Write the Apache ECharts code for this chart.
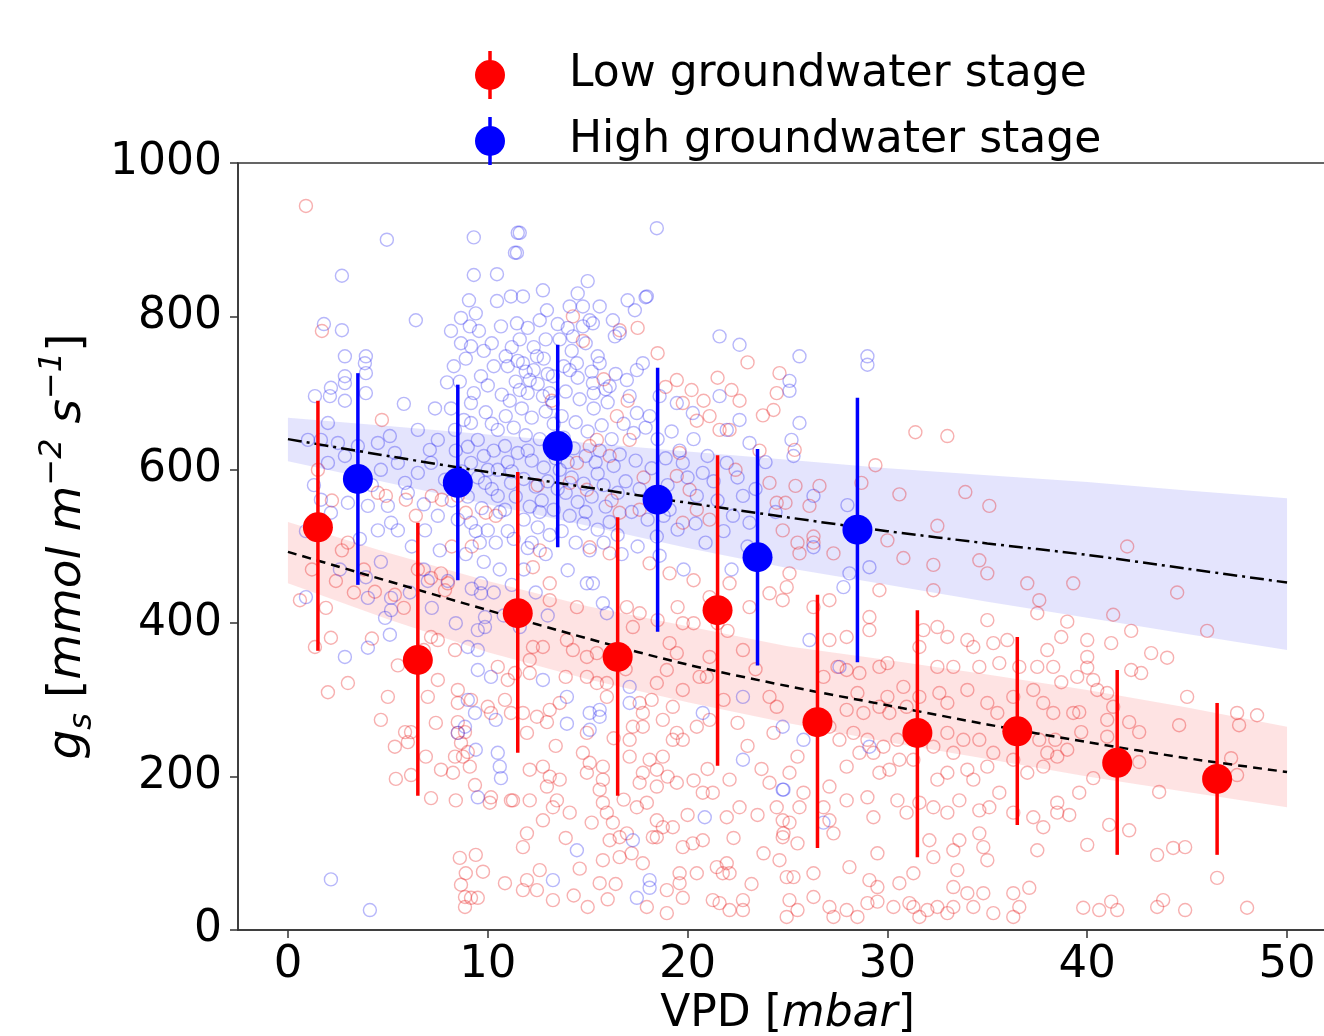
<!DOCTYPE html>
<html>
<head>
<meta charset="utf-8">
<script src="https://cdn.jsdelivr.net/npm/echarts/dist/echarts.min.js"></script>
<style>
html,body{margin:0;padding:0;background:#fff;}
#chart{width:1324px;height:1036px;}
</style>
</head>
<body>
<div id="chart"></div>
<script>
// ---------- data ----------
const vpdTicks = [0, 10, 20, 30, 40, 50];

// low groundwater stage: bin means and error bars
const lowX = [1.5, 6.5, 11.5, 16.5, 21.5, 26.5, 31.5, 36.5, 41.5, 46.5];
const lowMean = [525, 352, 413, 356, 417, 271, 257, 259, 218, 197];
const lowErrLo = [364, 175, 231, 175, 214, 107, 95, 137, 98, 98];
const lowErrHi = [690, 531, 597, 538, 619, 437, 417, 382, 339, 296];

// high groundwater stage: bin means and error bars
const highX = [3.5, 8.5, 13.5, 18.5, 23.5, 28.5];
const highMean = [588, 583, 631, 561, 486, 522];
const highErrLo = [450, 456, 499, 389, 345, 349];
const highErrHi = [726, 711, 763, 733, 627, 694];

// fitted curves and confidence bands
const fitX = [0, 5, 10, 15, 20, 25, 30, 35, 40, 45, 50];
const lowFit = [493, 455, 417, 380, 346, 318, 293, 268, 245, 224, 206];
const lowBandUpper = [532, 492, 455, 422, 396, 370, 352, 333, 313, 290, 265];
const lowBandLower = [452, 405, 362, 327, 297, 270, 245, 223, 200, 180, 160];
const highFit = [640, 618, 597, 577, 557, 538, 520, 504, 489, 471, 453];
const highBandUpper = [668, 657, 646, 635, 624, 613, 602, 593, 584, 573, 563];
const highBandLower = [611, 583, 555, 527, 498, 472, 450, 428, 407, 386, 365];

// individual observations (hollow circles)
const lowObs = [
[0.9,944],[1.7,781],[4.7,665],[4.5,570],[4.9,566],[5.9,561],[7.2,566],[7.7,561],[8.5,566],[8.9,544],[9.9,544],[10.4,540],[6.4,540],[3.0,505],[2.7,495],[8.2,500],[9.2,500],
[1.35,369],[2.15,381],[3.0,322],[2.0,310],[4.35,441],[5.35,437],[7.16,459],[7.66,465],[8.0,452],[7.86,443],[7.16,382],[7.5,378],[8.36,365],[10.5,343],[11.0,326],[11.36,335],[7.5,326],[7.0,304],[8.5,313],[8.5,296],[9.16,300],[10.0,291],[10.16,283],[10.86,300],[11.16,283],[5.0,304],[4.65,274],[5.86,258],[6.16,258],[6.0,245],[5.35,239],[7.4,270],[6.9,226],[8.5,271],[8.5,257],[8.66,244],[8.86,258],[8.36,226],[8.76,226],[9.0,232],[7.66,209],[8.26,205],[9.1,213],[9.36,189],[10.1,166],[10.16,173],[11.16,169],[7.16,172],[8.4,169],[5.4,197],[6.16,202],[8.6,94],[9.4,98],[9.76,76],[8.9,74],[8.66,59],[8.86,43],[9.16,42],[9.5,42],[8.86,30],[10.86,61],
[0.6,430],[1.2,470],[2.4,455],[3.3,440],[1.5,600],[2.2,560],[3.6,585],[1.9,420],[3.8,470],[4.2,380],[5.8,420],[6.5,470],[6.8,365],[5.5,345],
[12.26,473],[13.1,452],[13.1,430],[14.46,421],[16.96,421],[17.6,413],[17.26,395],[12.26,369],[12.76,369],[13.96,378],[14.26,365],[12.1,335],[12.1,352],[14.96,356],[15.46,361],[14.96,330],[15.46,322],[13.6,296],[13.1,287],[12.46,278],[11.76,283],[12.96,271],[15.96,304],[15.96,322],[17.6,296],[17.76,283],[17.26,265],[17.76,265],[18.46,322],[18.96,339],[19.26,291],[18.76,274],[19.46,257],[19.76,248],[19.26,248],[20.46,265],[21.1,274],[19.76,313],[19.76,400],[19.1,374],[19.46,361],[20.96,330],[21.1,356],[22.77,365],[24.1,304],[24.46,291],[24.3,257],[14.96,257],[14.76,231],[15.1,218],[14.96,205],[15.76,213],[15.76,196],[15.6,183],[15.76,166],[15.96,153],[16.26,140],[16.6,121],[17.1,248],[17.1,226],[17.76,205],[18.1,222],[18.46,209],[18.76,226],[17.6,192],[18.46,187],[19.46,192],[17.96,166],[17.46,160],[18.46,143],[18.76,134],[18.26,121],[11.96,257],[12.1,209],[12.76,213],[12.96,187],[11.26,169],[12.1,169],[13.46,169],[14.1,153],[13.26,160],[12.76,143],[13.6,196],[13.1,200],[11.96,126],[11.76,108],[12.6,78],[11.96,65],[12.46,52],[11.76,52],[13.26,39],[15.6,61],[15.76,91],[16.6,95],[16.1,117],[16.96,126],[17.76,87],[18.46,121],[19.26,134],[19.76,108],[19.6,74],[17.96,30],[18.96,22],[19.76,42],[20.26,113],[20.76,117],[21.96,147],[22.6,160],[20.76,179],[21.26,179],[22.1,196],[21.46,82],[21.96,87],[21.76,74],[22.1,74],[21.26,39],[21.6,35],[22.1,26],[22.77,39],[22.77,26],[18.96,52],[19.6,61],[20.46,74],[24.1,192],[24.46,160],[24.76,143],[24.76,121],[24.6,91],[24.96,69],
[12.6,495],[15.1,499],[16.1,491],[18.1,478],[19.1,465],[20.3,456],[21.1,434],[22.1,452],[23.1,421],[24.1,439],[19.5,421],[18.5,404],[21.5,400],[20.3,400],
[14.26,800],[16.6,782],[17.5,785],[14.76,768],[18.5,752],[19.46,717],[20.2,704],[19.76,687],[21.1,670],[20.46,664],[21.6,652],[22.2,704],[22.6,690],[23.77,671],[24.46,700],[24.6,726],[24.3,678],[22.1,652],[15.46,639],[15.1,631],[16.46,670],[17.1,639],[16.1,618],[14.46,609],[14.1,583],[14.96,574],[16.6,544],[17.6,548],[19.6,622],[19.46,592],[20.1,574],[20.46,548],[21.1,535],[19.76,531],[24.1,583],[24.46,557],[24.76,521],
[13.2,690],[15.8,718],[17.0,690],[18.9,708],[20.8,690],[21.5,720],[23.0,740],[22.4,600],[23.6,625],[16.2,560],[17.8,590],[12.5,580],
[25.36,626],[31.4,649],[33.0,644],[29.4,606],[28.7,583],[30.6,568],[33.9,571],[35.1,553],[32.5,527],[30.0,508],[25.4,579],[26.6,579],[24.9,557],[26.1,553],[26.3,513],[25.5,505],
[25.1,465],[24.96,447],[24.76,430],[25.6,491],[27.3,491],[26.3,505],[29.6,443],[29.1,408],[29.1,391],[27.96,382],[27.1,378],[26.3,421],[27.1,430],[30.8,485],[32.3,476],[32.3,443],[34.6,482],[35.0,465],[37.0,452],[37.6,430],[37.5,413],[35.0,404],
[31.8,391],[32.5,395],[33.0,382],[31.6,369],[34.0,378],[34.3,369],[35.3,374],[36.0,378],[35.6,348],[34.6,343],[33.3,343],[32.5,343],[29.6,343],[30.0,348],[28.6,335],[27.96,339],[27.5,343],[26.8,330],
[30.8,317],[30.0,304],[28.5,309],[27.96,287],[28.8,283],[29.6,291],[30.1,283],[30.96,291],[31.6,304],[32.6,309],[33.0,296],[34.0,313],[35.0,296],[35.5,283],[36.3,304],[37.3,313],[37.8,296],[38.3,283],[37.5,343],[36.6,343],[38.0,365],
[27.1,265],[27.6,248],[28.3,257],[29.0,248],[28.6,231],[27.96,213],[29.3,231],[29.8,239],[30.5,248],[30.6,222],[29.6,205],[30.1,209],[31.3,222],[32.3,239],[33.0,257],[33.3,231],[33.8,248],[34.6,248],[35.3,231],[34.0,209],[33.0,205],[32.5,196],[34.3,196],[35.0,213],[36.3,222],[37.6,248],[38.0,231],[37.0,205],[37.8,213],
[25.5,226],[25.1,205],[25.8,179],[25.6,160],[25.1,140],[24.8,126],[25.5,113],[27.1,187],[26.8,160],[27.1,143],[27.3,126],[29.0,173],[29.3,147],[27.96,169],[30.5,169],[30.96,153],[31.6,166],[32.3,160],[33.0,153],[33.6,169],[34.6,156],[35.1,160],[35.6,179],[36.3,153],[37.3,147],[37.8,134],
[29.5,100],[28.1,82],[32.1,117],[32.3,95],[33.3,104],[33.6,117],[34.6,126],[34.8,108],[35.0,91],[37.5,104],[33.5,78],[33.3,56],[31.3,74],[30.6,61],[29.5,56],[29.1,65],[26.3,74],[25.3,69],
[25.1,39],[26.3,43],[27.1,30],[27.96,26],[29.0,35],[29.5,37],[30.3,30],[31.1,35],[31.3,30],[32.0,26],[32.5,30],[33.0,22],[34.0,48],[34.8,48],[35.3,22],[36.3,48],[36.6,30],[37.1,55],[36.3,17],[34.3,30],[33.3,30],[31.6,17],[28.5,17],[27.3,17],[24.96,17],[25.5,26],
[39.3,452],[39.0,402],[38.7,382],[40.0,378],[41.3,411],[41.2,374],[42.2,390],[43.2,361],[40.0,356],[40.0,342],[39.5,330],[40.3,326],[40.5,313],[41.0,309],[38.3,343],[38.7,323],[42.2,339],[42.7,335],[45.0,304],[44.6,267],[47.5,283],[47.6,267],[41.3,291],[42.1,271],[42.6,258],[41.0,274],[39.6,284],[39.3,283],[39.7,258],[39.0,235],[38.5,226],[38.4,248],[41.0,252],[42.6,219],[47.2,224],[47.5,202],[40.3,198],[39.6,179],[38.5,166],[38.5,153],[39.1,150],[43.6,180],[41.1,137],[42.1,130],[40.0,111],[43.5,98],[44.3,107],[44.9,108],[46.5,68],[39.8,29],[40.6,26],[41.2,37],[41.5,26],[43.5,30],[43.8,39],[44.9,26],[48.0,29],
[44.5,440],[42.0,500],[46.0,390],[44.0,355],[48.5,280],
[13.9,120],[14.6,80],[15.2,140],[16.4,60],[17.2,100],[14.3,45],[15.0,30],[16.0,40],[16.8,170],[20.0,150],[21.0,210],[22.3,120],[23.2,60],[23.8,100],[23.5,150],[23.0,240],[22.5,270],[23.7,210],[21.8,300],[20.6,330],[13.4,240],[13.9,330],[16.3,250],[16.9,340],[18.2,300],[19.0,200],[20.3,195],[23.4,340],[22.0,390]
];

const highObs = [
[4.95,900],[9.3,903],[11.5,909],[2.7,853],[9.3,854],[10.46,855],[6.4,795],[1.8,790],[2.7,782],[9.06,821],[10.46,820],[9.4,804],[8.66,798],[8.16,781],[9.1,787],[9.56,781],[8.66,765],[9.16,761],[10.66,787],[11.16,826],[11.36,883],[2.85,748],[3.9,748],[3.85,739],[3.9,726],[3.9,700],[2.85,722],[2.85,713],[2.15,707],[2.1,696],[2.85,690],[1.35,696],[5.8,686],[7.96,714],[7.36,680],[8.16,680],[9.16,687],[9.66,722],[2.0,661],[1.0,639],[1.65,639],[2.5,635],[3.5,631],[4.5,635],[5.1,644],[5.35,622],[6.5,652],[7.1,626],[7.5,639],[8.36,652],[9.16,661],[9.5,639],[10.5,652],[10.86,631],[2.0,609],[2.85,618],[4.65,600],[5.5,609],[5.86,583],[6.5,596],[7.16,609],[7.86,587],[9.16,609],[9.86,583],[10.5,600],[11.16,583],[1.65,561],[2.15,544],[3.0,557],[4.0,553],[5.0,553],[5.16,531],[4.5,521],[5.5,521],[6.86,521],[9.16,531],[10.0,521],[10.5,566],[10.86,548],
[0.9,434],[2.85,356],[4.0,368],[4.65,480],[4.0,433],[5.16,433],[5.16,417],[4.86,407],[5.1,385],[9.0,369],[9.5,365],[9.5,339],[10.16,330],[9.66,452],[9.66,439],[9.86,408],[9.5,391],[9.86,395],[9.0,300],[9.36,283],[10.4,274],[8.5,257],[8.86,265],[9.4,235],[10.5,231],[10.6,213],[10.66,198],[9.5,173],[2.15,66],[4.1,26],
[14.0,469],[14.96,452],[15.26,452],[15.76,426],[15.96,413],[12.76,326],[13.96,304],[13.96,269],[15.1,283],[15.6,287],[15.6,278],[15.1,261],[17.1,317],[17.1,296],[20.76,283],[22.77,304],[22.77,222],[14.46,104],[13.26,65],[17.26,117],[18.1,65],[18.1,55],[17.46,42],[20.86,147],[24.76,183],[24.76,265],
[18.46,915],[11.6,909],[11.46,883],[15.0,846],[12.76,834],[11.76,826],[11.46,791],[12.6,795],[14.5,830],[14.1,813],[14.76,813],[12.96,808],[17.96,826],[17.36,808],[15.6,813],[16.26,795],[16.6,778],[16.36,774],[15.1,795],[15.26,791],[14.26,774],[14.76,787],[21.6,774],[22.6,763],
[15.6,739],[16.96,717],[17.46,730],[17.76,739],[15.26,713],[16.1,709],[17.1,696],[14.46,739],[14.1,730],[13.26,722],[12.46,748],[11.76,739],[12.1,717],[11.6,704],[12.76,696],[13.26,687],
[21.6,696],[21.96,652],[22.6,665],[23.1,635],[19.46,687],[20.26,674],[18.6,696],[18.1,670],[17.46,674],
[19.76,609],[20.76,596],[20.46,566],[21.96,609],[22.77,566],[22.27,540],[23.1,531],[19.1,548],[18.46,513],
[25.6,748],[29.0,748],[29.0,737],[25.1,716],[25.1,703],[25.6,661],[25.2,639],[25.3,618],[26.3,566],[28.0,554],
[26.3,499],[29.1,473],[28.1,465],[27.8,447],[26.1,378],[27.6,343],[24.8,183],[26.8,140],[29.1,239],[25.8,248],
[11.2,760],[11.5,742],[11.9,728],[12.3,760],[12.8,745],[11.4,715],[12.0,700],[12.5,712],[13.0,725],[11.1,690],[11.7,680],[12.2,668],[12.9,676],[13.3,660],[11.3,655],[11.9,645],[12.6,640],[13.1,632],[11.5,622],[12.2,612],[12.8,603],[13.4,615],[11.2,598],[11.8,588],[12.4,578],[13.0,585],[11.4,565],[12.1,552],[12.7,560],[13.3,548],[11.8,535],[12.5,525],[13.1,515],[11.3,510],[12.0,498],[12.9,490],
[13.6,770],[14.2,755],[14.9,765],[15.5,748],[13.8,735],[14.5,720],[15.2,728],[15.9,705],[13.9,702],[14.6,692],[15.3,680],[16.0,688],[13.7,670],[14.4,662],[15.0,650],[15.7,658],[13.8,642],[14.3,628],[14.9,618],[15.6,625],[16.2,640],[13.6,600],[14.2,590],[14.8,582],[15.5,595],[16.3,605],[13.9,570],[14.5,558],[15.2,565],[15.9,552],[14.1,540],[14.8,530],[15.5,522],[16.1,532],[13.7,520],[14.4,505],[15.1,495],[15.8,505],[16.5,515],
[16.8,660],[17.3,648],[17.9,655],[18.5,640],[19.2,650],[16.6,620],[17.4,612],[18.2,602],[18.9,615],[19.6,625],[20.3,640],[21.0,618],[16.9,585],[17.6,575],[18.3,568],[19.0,580],[20.0,590],[21.3,585],[17.2,545],[18.0,535],[18.8,540],[19.5,522],[20.4,530],[21.5,560],[16.7,490],[17.5,500],[18.6,488],[19.8,470],[20.9,505],[21.8,520],[22.5,590],[23.4,575],[23.9,610],[24.4,545],[23.0,500],[22.2,470],
[8.3,735],[8.9,745],[9.8,755],[10.3,735],[10.9,748],[8.6,715],[9.3,700],[10.0,710],[10.7,698],[8.8,665],[9.9,675],[10.2,660],[10.9,670],[8.4,625],[9.0,630],[9.8,618],[10.3,625],[8.7,598],[9.5,590],[10.2,575],[8.2,560],[9.0,565],[9.7,550],[8.5,535],[9.4,520],[10.4,505],[8.9,490],[9.8,480],[10.6,470],[8.0,455],[9.2,445],[10.3,440],[7.6,495],[6.8,470],[7.2,420],[8.4,400],[10.8,410],[11.2,450],[11.8,470],[12.4,440],[13.0,410],[11.6,395],
[3.2,590],[4.2,580],[6.0,570],[6.8,555],[7.5,540],[3.6,510],[6.2,500],[7.0,455],[2.6,470],[3.9,460],[6.1,440],[0.9,520],[1.3,580],[17.0,821],[17.9,825],
[11.0,735],[11.6,770],[12.0,785],[12.9,770],[13.5,790],[14.0,785],[12.3,730],[13.1,700],[13.6,640],[12.0,625],[11.0,610],[14.0,610],[12.6,545],[13.5,575],[14.9,545],[15.4,610],[15.8,580],[16.5,570],[15.3,700],[16.4,725],[10.2,765],[10.0,600],[10.6,545],[9.6,505],[11.0,520],[12.2,505]
];

// ---------- chart ----------
const FONT = 'DejaVu Sans';
const RED = '#ff0000', BLUE = '#0000ff';

function bandSeries(name, upper, lower, color) {
  return {
    type: 'custom', name: name, z: 1, silent: true,
    data: [[fitX[0], upper[0]]],
    renderItem: function (params, api) {
      const pts = [];
      for (let i = 0; i < fitX.length; i++) pts.push(api.coord([fitX[i], upper[i]]));
      for (let i = fitX.length - 1; i >= 0; i--) pts.push(api.coord([fitX[i], lower[i]]));
      return { type: 'polygon', shape: { points: pts }, style: { fill: color } };
    }
  };
}

function errSeries(xs, lo, hi, color) {
  return {
    type: 'custom', z: 6, silent: true,
    data: xs.map((x, i) => [x, lo[i], hi[i]]),
    encode: { x: 0, y: [1, 2] },
    renderItem: function (params, api) {
      const a = api.coord([api.value(0), api.value(1)]);
      const b = api.coord([api.value(0), api.value(2)]);
      return { type: 'line', shape: { x1: a[0], y1: a[1], x2: b[0], y2: b[1] },
               style: { stroke: color, lineWidth: 3.5 } };
    }
  };
}

const legendIcon = 'path://M13.25,0H16.75V48H13.25Z M0,24A15,15 0 1,1 30,24A15,15 0 1,1 0,24Z';

const chart = echarts.init(document.getElementById('chart'), null, { renderer: 'canvas' });
chart.setOption({
  animation: false,
  backgroundColor: '#fff',
  textStyle: { fontFamily: FONT },
  grid: { left: 238, top: 163, width: 1099, height: 767, show: true, borderColor: '#333', borderWidth: 1.5,
          backgroundColor: 'transparent', containLabel: false, outerBoundsMode: 'none' },
  legend: {
    orient: 'vertical', left: 470, top: 46, itemWidth: 30, itemHeight: 48, itemGap: 18,
    data: [
      { name: 'Low groundwater stage', icon: legendIcon },
      { name: 'High groundwater stage', icon: legendIcon }
    ],
    textStyle: { fontSize: 44, color: '#000', fontFamily: FONT, padding: [4, 0, 0, 59] },
    selectedMode: false
  },
  xAxis: {
    type: 'value', min: -2.5, max: 52.5,
    name: '{n|VPD [}{i|mbar}{n|]}', nameLocation: 'middle', nameGap: 63,
    nameTextStyle: { rich: {
      n: { fontSize: 44, fontFamily: FONT, color: '#000' },
      i: { fontSize: 44, fontFamily: FONT, fontStyle: 'italic', color: '#000' } } },
    axisLine: { show: true, onZero: false, lineStyle: { color: '#333', width: 1.5 } },
    axisTick: { show: true, customValues: vpdTicks, length: 8, lineStyle: { color: '#333', width: 1.5 } },
    axisLabel: { customValues: vpdTicks, fontSize: 45, color: '#000', fontFamily: FONT, margin: 13 },
    splitLine: { show: false }
  },
  yAxis: {
    type: 'value', min: 0, max: 1000, interval: 200,
    name: '{i|g}{sub|s}{n| [}{i|mmol m}{sup|−2}{i| s}{sup|−1}{n|]}',
    nameLocation: 'middle', nameRotate: 90, nameGap: 96,
    nameTextStyle: { rich: {
      n: { fontSize: 47, fontFamily: FONT, color: '#000', lineHeight: 62 },
      i: { fontSize: 47, fontFamily: FONT, fontStyle: 'italic', color: '#000', lineHeight: 62 },
      sup: { fontSize: 32, fontFamily: FONT, fontStyle: 'italic', color: '#000', verticalAlign: 'top', lineHeight: 32 },
      sub: { fontSize: 32, fontFamily: FONT, fontStyle: 'italic', color: '#000', verticalAlign: 'bottom', lineHeight: 36 } } },
    axisLine: { show: true, onZero: false, lineStyle: { color: '#333', width: 1.5 } },
    axisTick: { show: true, length: 8, lineStyle: { color: '#333', width: 1.5 } },
    axisLabel: { fontSize: 44, color: '#000', fontFamily: FONT, margin: 16, formatter: function (v) { return String(v); } },
    splitLine: { show: false }
  },
  series: [
    bandSeries('lowBand', lowBandUpper, lowBandLower, 'rgba(250,80,80,0.16)'),
    bandSeries('highBand', highBandUpper, highBandLower, 'rgba(90,90,240,0.16)'),
    {
      type: 'scatter', name: 'lowObs', z: 2, silent: true, symbol: 'circle', symbolSize: 13,
      data: lowObs,
      itemStyle: { color: 'rgba(255,255,255,0)', borderColor: 'rgba(230,20,20,0.42)', borderWidth: 1.4 }
    },
    {
      type: 'scatter', name: 'highObs', z: 2, silent: true, symbol: 'circle', symbolSize: 13,
      data: highObs,
      itemStyle: { color: 'rgba(255,255,255,0)', borderColor: 'rgba(30,30,240,0.4)', borderWidth: 1.4 }
    },
    {
      type: 'line', z: 4, silent: true, smooth: 0.3, showSymbol: false,
      data: fitX.map((x, i) => [x, lowFit[i]]),
      lineStyle: { color: '#000', width: 2.5, type: [9, 6] }
    },
    {
      type: 'line', z: 4, silent: true, smooth: 0.3, showSymbol: false,
      data: fitX.map((x, i) => [x, highFit[i]]),
      lineStyle: { color: '#000', width: 2.5, type: [14, 5, 3, 5] }
    },
    errSeries(lowX, lowErrLo, lowErrHi, RED),
    errSeries(highX, highErrLo, highErrHi, BLUE),
    {
      type: 'scatter', name: 'Low groundwater stage', z: 8, symbol: 'circle', symbolSize: 30,
      data: lowX.map((x, i) => [x, lowMean[i]]),
      itemStyle: { color: RED, opacity: 1 }
    },
    {
      type: 'scatter', name: 'High groundwater stage', z: 8, symbol: 'circle', symbolSize: 30,
      data: highX.map((x, i) => [x, highMean[i]]),
      itemStyle: { color: BLUE, opacity: 1 }
    }
  ]
});
</script>
</body>
</html>
